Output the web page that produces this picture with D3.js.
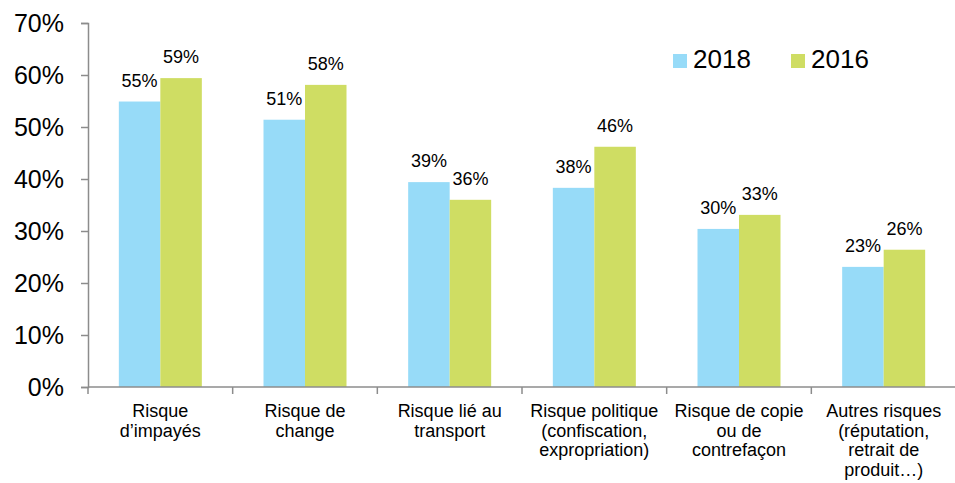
<!DOCTYPE html>
<html>
<head>
<meta charset="utf-8">
<script src="https://cdn.jsdelivr.net/npm/d3@7"></script>
<style>
  body { margin: 0; background: #fff; }
  svg { font-family: "Liberation Sans", Arial, sans-serif; }
</style>
</head>
<body>
<svg></svg>
<script>
var w = 955, h = 483;

// data
var categories = [
    ["Risque", "d\u2019impay\u00e9s"],
    ["Risque de", "change"],
    ["Risque li\u00e9 au", "transport"],
    ["Risque politique", "(confiscation,", "expropriation)"],
    ["Risque de copie", "ou de", "contrefa\u00e7on"],
    ["Autres risques", "(r\u00e9putation,", "retrait de", "produit\u2026)"]
];
var seriesNames = ["2018", "2016"];
var values2018 = [0.549, 0.514, 0.394, 0.383, 0.304, 0.231];
var values2016 = [0.594, 0.581, 0.360, 0.462, 0.331, 0.264];
var yTicks = [0, 0.1, 0.2, 0.3, 0.4, 0.5, 0.6, 0.7];
var colors = ["#97dbf8", "#cfdd63"];

var svg = d3.select("svg").attr("width", w).attr("height", h);

var x0 = d3.scaleBand()
    .domain(d3.range(categories.length))
    .range([88, 956]);

var x1 = d3.scaleBand()
    .domain(seriesNames)
    .range([0, x0.bandwidth()])
    .paddingOuter(0.743);

var y = d3.scaleLinear()
    .domain([0, 0.7])
    .range([387, 23]);

// y axis
var yAxis = svg.append("g")
    .attr("transform", "translate(88,0)")
    .call(d3.axisLeft(y).tickValues(yTicks).tickFormat(d3.format(".0%")).tickSize(7).tickPadding(17));
yAxis.select(".domain").attr("stroke", "#8c8c8c").attr("stroke-width", 1.5);
yAxis.selectAll(".tick line").attr("stroke", "#8c8c8c").attr("stroke-width", 1.5);
yAxis.selectAll(".tick text")
    .attr("fill", "#000")
    .style("font-size", "25px")
    .attr("font-family", null);

// bars
var groups = svg.selectAll(".grp")
    .data(categories.map((c, i) => ({i: i, vals: [values2018[i], values2016[i]]})))
    .enter().append("g")
    .attr("class", "grp")
    .attr("transform", d => "translate(" + x0(d.i) + ",0)");

groups.selectAll("rect")
    .data(d => d.vals.map((v, k) => ({k: k, v: v})))
    .enter().append("rect")
    .attr("x", d => x1(seriesNames[d.k]))
    .attr("y", d => y(d.v))
    .attr("width", x1.bandwidth())
    .attr("height", d => y(0) - y(d.v))
    .attr("fill", d => colors[d.k]);

groups.selectAll("text.val")
    .data(d => d.vals.map((v, k) => ({k: k, v: v})))
    .enter().append("text")
    .attr("class", "val")
    .attr("x", d => x1(seriesNames[d.k]) + x1.bandwidth() / 2)
    .attr("y", d => y(d.v) - 15)
    .attr("text-anchor", "middle")
    .style("font-size", "18px")
    .attr("fill", "#000")
    .text(d => d3.format(".0%")(d.v));

// x axis
var xAxis = svg.append("g")
    .attr("transform", "translate(0,387)");
xAxis.append("line")
    .attr("x1", 88).attr("x2", 956)
    .attr("stroke", "#8c8c8c").attr("stroke-width", 1.5);
xAxis.selectAll(".xt")
    .data(d3.range(categories.length + 1))
    .enter().append("line")
    .attr("x1", d => d < categories.length ? x0(d) : x0.range()[1])
    .attr("x2", d => d < categories.length ? x0(d) : x0.range()[1])
    .attr("y1", 0).attr("y2", 7)
    .attr("stroke", "#8c8c8c").attr("stroke-width", 1.5);

var catLabels = xAxis.selectAll(".cat")
    .data(categories)
    .enter().append("text")
    .attr("class", "cat")
    .attr("text-anchor", "middle")
    .style("font-size", "18px")
    .attr("fill", "#000");
catLabels.each(function (lines, i) {
    var t = d3.select(this);
    lines.forEach((ln, j) => {
        t.append("tspan")
            .attr("x", x0(i) + x0.bandwidth() / 2)
            .attr("y", 30 + j * 19.5)
            .text(ln);
    });
});

// legend
var legend = svg.append("g");
var legX = [673, 791];
seriesNames.forEach((s, i) => {
    legend.append("rect")
        .attr("x", legX[i]).attr("y", 54)
        .attr("width", 14).attr("height", 14)
        .attr("fill", colors[i]);
    legend.append("text")
        .attr("x", legX[i] + 20).attr("y", 68)
        .style("font-size", "26px")
        .attr("fill", "#000")
        .text(s);
});
</script>
</body>
</html>
